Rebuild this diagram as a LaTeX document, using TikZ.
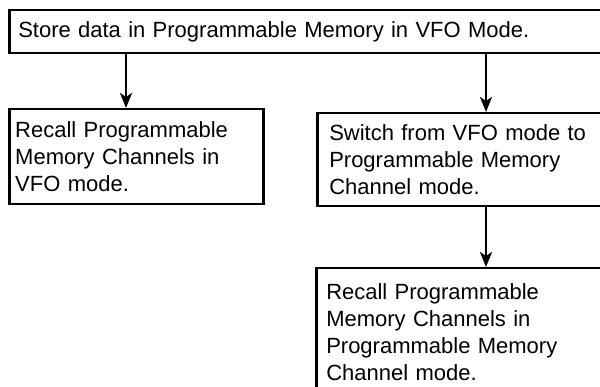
\documentclass[tikz,border=0pt]{standalone}
\usepackage{fontspec}
\setmainfont{Liberation Sans}
\usetikzlibrary{shapes, arrows.meta, positioning}
\tikzstyle{box}  = [draw, rectangle, line width=2.5pt, anchor=north west, align=left, inner ysep=0pt, font=\fontsize{22}{27}\selectfont]
\tikzstyle{flow} = [line width=2.6pt, -{Stealth[length=15pt, width=12pt, inset=4pt]}]

\begin{document}
\begin{tikzpicture}[x=1pt, y=1pt]
\useasboundingbox (0,0) rectangle (600,-387);

% nodes
\node [box, inner xsep=9pt,  text width=595pt, minimum height=43pt]  at (  8 ,   -9 ) (store)     {Store data in Programmable Memory in VFO Mode.};
\node [box, inner xsep=6pt,  text width=242pt, minimum height=95pt]  at (  8 , -108 ) (recallvfo) {Recall Programmable\\ Memory Channels in\\ VFO mode.};
\node [box, inner xsep=12pt, text width=280pt, minimum height=93pt]  at (316 , -112 ) (switch)    {Switch from VFO mode to\\ Programmable Memory\\ Channel mode.};
\node [box, inner xsep=10pt, text width=285pt, minimum height=127pt] at (315 , -267 ) (recallmem) {Recall Programmable\\ Memory Channels in\\ Programmable Memory\\ Channel mode.};

\coordinate (x1) at (126, 0);
\coordinate (x2) at (486, 0);

%  edges
\path [flow]
  (store.south -| x1)  edge (recallvfo.north -| x1)
  (store.south -| x2)  edge (switch.north -| x2)
  (switch.south -| x2) edge (recallmem.north -| x2);

\end{tikzpicture}
\end{document}
